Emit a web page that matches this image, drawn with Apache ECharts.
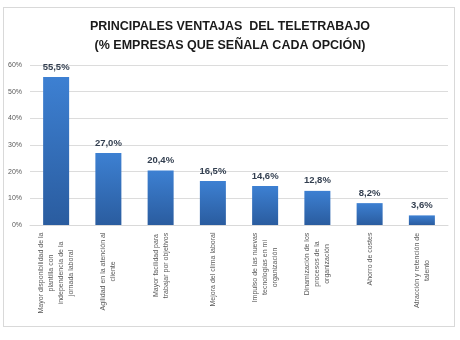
<!DOCTYPE html>
<html>
<head>
<meta charset="utf-8">
<script src="https://cdn.jsdelivr.net/npm/echarts@6/dist/echarts.min.js"></script>
<style>
html,body{margin:0;padding:0;background:#fff;}
#frame{position:absolute;left:3px;top:7px;width:452px;height:320px;border:1px solid #d9d9d9;box-sizing:border-box;}
#c{position:absolute;left:0;top:0;width:460px;height:340px;}
</style>
</head>
<body>
<div id="frame"></div>
<div id="c"></div>
<script>
const titleLines = ['PRINCIPALES VENTAJAS  DEL TELETRABAJO', '(% EMPRESAS QUE SEÑALA CADA OPCIÓN)'];
const categories = [
  'Mayor disponibilidad de la\nplantilla con\nindependencia de la\njornada laboral',
  'Agilidad en la atención al\ncliente',
  'Mayor facilidad para\ntrabajar por objetivos',
  'Mejora del clima laboral',
  'Impulso de las nuevas\ntecnologías en mi\norganización',
  'Dinamización de los\nprocesos de la\norganización',
  'Ahorro de costes',
  'Atracción y retención de\ntalento'
];
const values = [55.5, 27.0, 20.4, 16.5, 14.6, 12.8, 8.2, 3.6];
const yTicks = [0, 10, 20, 30, 40, 50, 60];

const LABEL_FONT = '7px "Liberation Sans"';
const measureCtx = document.createElement('canvas').getContext('2d');
measureCtx.font = LABEL_FONT;
const rich = {};
categories.forEach(function (c, i) {
  let w = 0;
  c.split('\n').forEach(function (l) { w = Math.max(w, measureCtx.measureText(l).width); });
  rich['a' + i] = {align: 'center', width: Math.ceil(w) + 1, fontFamily: 'Liberation Sans', fontSize: 7, color: '#595959', lineHeight: 10};
});

const chart = echarts.init(document.getElementById('c'), null, {renderer: 'canvas'});
chart.setOption({
  animation: false,
  title: {
    text: titleLines.join('\n'),
    left: 'center',
    top: 12,
    textStyle: {fontFamily: 'Liberation Sans', fontWeight: 'bold', fontSize: 12.5, color: '#1a1a1a', lineHeight: 19}
  },
  grid: {left: 30, right: 12, top: 65, bottom: 115},
  xAxis: {
    type: 'category',
    data: categories,
    axisLine: {show: true, lineStyle: {color: '#d9d9d9'}},
    axisTick: {show: false},
    axisLabel: {
      interval: 0,
      rotate: 90,
      margin: 7,
      formatter: function (v) {
        const i = categories.indexOf(v);
        return v.split('\n').map(function (l) { return '{a' + i + '|' + l + '}'; }).join('\n');
      },
      rich: rich
    }
  },
  yAxis: {
    type: 'value',
    min: 0, max: 60, interval: 10,
    axisLine: {show: false},
    axisTick: {show: false},
    splitLine: {lineStyle: {color: '#dcdcdc', width: 1}},
    axisLabel: {
      margin: 8,
      fontFamily: 'Liberation Sans', fontSize: 7, color: '#595959',
      formatter: function (v) { return yTicks.indexOf(v) >= 0 ? v + '%' : ''; }
    }
  },
  series: [{
    type: 'bar',
    data: values,
    barWidth: 26,
    itemStyle: {
      color: new echarts.graphic.LinearGradient(0, 0, 0, 1, [
        {offset: 0, color: '#3d80d2'},
        {offset: 1, color: '#2a5c9f'}
      ])
    },
    label: {
      show: true,
      position: 'top',
      distance: 5,
      fontFamily: 'Liberation Sans', fontSize: 9.5, fontWeight: 'bold', color: '#333f50',
      formatter: function (p) { return p.value.toFixed(1).replace('.', ',') + '%'; }
    }
  }]
});
</script>
</body>
</html>
